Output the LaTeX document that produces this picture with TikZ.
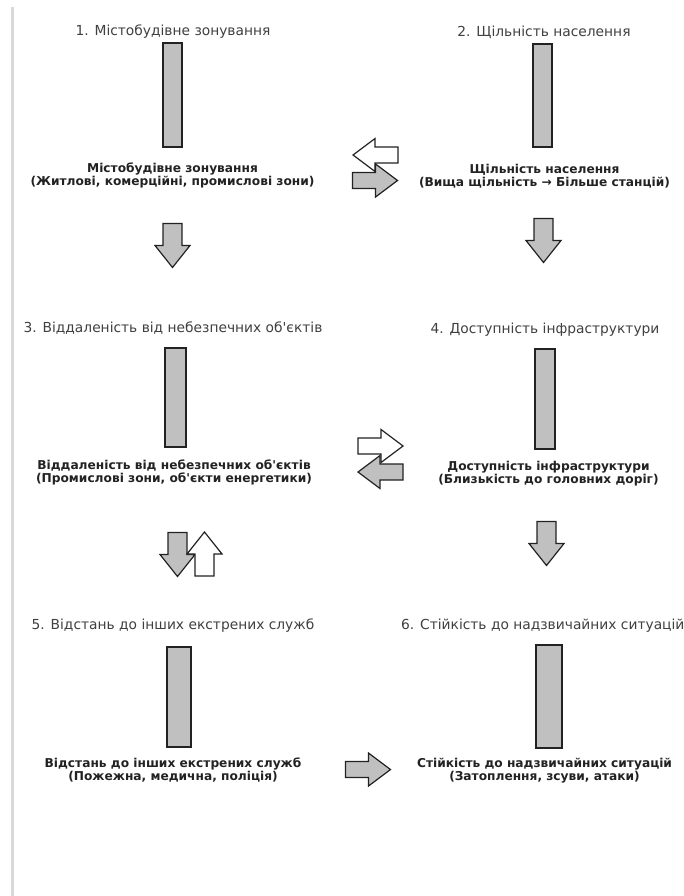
\documentclass[tikz,border=0pt]{standalone}
\usepackage{fontspec}
\newfontfamily\dv{DejaVu Sans}
\definecolor{barfill}{HTML}{C0C0C0}
\definecolor{titlecol}{HTML}{404040}
\definecolor{rulecol}{HTML}{D9D9D9}
\definecolor{edgecol}{HTML}{222222}
\begin{document}
\begin{tikzpicture}[x=1pt,y=-1pt,
  title/.style={font=\dv\fontsize{13.8}{16}\selectfont, text=titlecol, inner sep=0pt},
  desc/.style={font=\dv\bfseries\fontsize{12.2}{13}\selectfont, text=edgecol, align=center, inner sep=0pt},
  barbox/.style={draw=edgecol, line width=1.2pt, fill=barfill, inner sep=0pt},
  pics/hblk/.style={code={\draw[line width=1.2pt, line join=miter, draw=edgecol, fill=#1]
    (-22.5,-8) -- (0.5,-8) -- (0.5,-16.5) -- (22.5,0) -- (0.5,16.5) -- (0.5,8) -- (-22.5,8) -- cycle;}},
  pics/vblk/.style={code={\draw[line width=1.2pt, line join=miter, draw=edgecol, fill=#1]
    (-22,-9.5) -- (0,-9.5) -- (0,-17.5) -- (22,0) -- (0,17.5) -- (0,9.5) -- (-22,9.5) -- cycle;}}
]
\useasboundingbox (0,0) rectangle (684,896);
\fill[white] (0,0) rectangle (684,896);
\draw[line width=3pt, rulecol] (12.5,7) -- (12.5,896);

% row 1
\node[title] (t1) at (173,32) {1. Містобудівне зонування};
\node[title] (t2) at (544,32) {2. Щільність населення};
\node[barbox, minimum width=19pt, minimum height=104pt] (b1) at (172.5,95) {};
\node[barbox, minimum width=19pt, minimum height=103pt] (b2) at (542.5,95.5) {};
\node[desc] (d1) at (172.5,175.5) {Містобудівне зонування\\(Житлові, комерційні, промислові зони)};
\node[desc] (d2) at (544.5,176) {Щільність населення\\(Вища щільність → Більше станцій)};
\pic[rotate=180] at (375.5,155) {hblk=white};
\pic at (375,180.5) {hblk=barfill};
\pic[rotate=-90] at (172.5,245.5) {vblk=barfill};
\pic[rotate=-90] at (543.5,240.5) {vblk=barfill};

% row 2
\node[title] (t3) at (173,328) {3. Віддаленість від небезпечних об'єктів};
\node[title] (t4) at (545,330) {4. Доступність інфраструктури};
\node[barbox, minimum width=21pt, minimum height=99pt] (b3) at (175.5,397.5) {};
\node[barbox, minimum width=20pt, minimum height=100pt] (b4) at (545,399) {};
\node[desc] (d3) at (174,472.5) {Віддаленість від небезпечних об'єктів\\(Промислові зони, об'єкти енергетики)};
\node[desc] (d4) at (548.5,474) {Доступність інфраструктури\\(Близькість до головних доріг)};
\pic at (380.5,446) {hblk=white};
\pic[rotate=180] at (380.5,472) {hblk=barfill};
\pic[rotate=-90] at (177.5,554.5) {vblk=barfill};
\pic[rotate=90] at (204.5,554) {vblk=white};
\pic[rotate=-90] at (546.5,543.5) {vblk=barfill};

% row 3
\node[title] (t5) at (173,626) {5. Відстань до інших екстрених служб};
\node[title, anchor=west] (t6) at (401,626) {6. Стійкість до надзвичайних ситуацій};
\node[barbox, minimum width=24pt, minimum height=100pt] (b5) at (179,697) {};
\node[barbox, minimum width=26pt, minimum height=103pt] (b6) at (549,696.5) {};
\node[desc] (d5) at (173,770.5) {Відстань до інших екстрених служб\\(Пожежна, медична, поліція)};
\node[desc] (d6) at (544.5,770.5) {Стійкість до надзвичайних ситуацій\\(Затоплення, зсуви, атаки)};
\pic at (368,769.5) {hblk=barfill};
\end{tikzpicture}
\end{document}
